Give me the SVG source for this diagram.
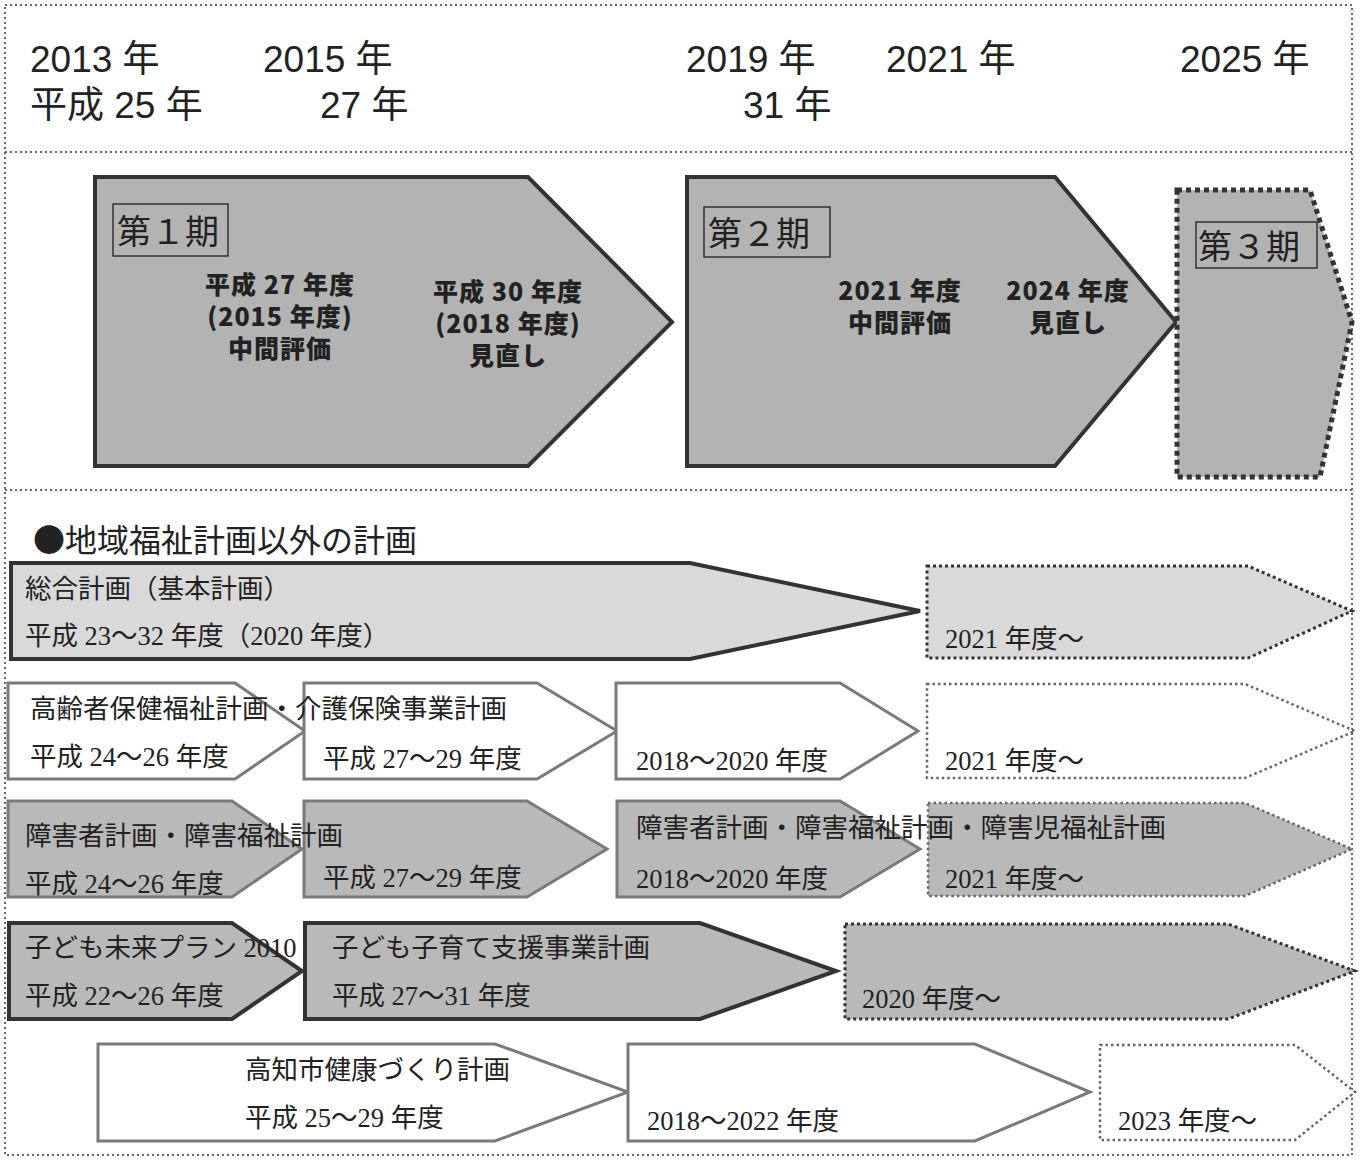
<svg xmlns="http://www.w3.org/2000/svg" width="1360" height="1160" viewBox="0 0 1360 1160">
<style>
.frame{fill:none;stroke:#666;stroke-width:2;stroke-dasharray:2 3}
.hdr{font-family:"Liberation Sans","Noto Sans CJK JP",sans-serif;font-size:37px;fill:#222}
.phase{fill:#b3b3b3;stroke:#333;stroke-width:4}
.phase3{fill:#b3b3b3;stroke:#333;stroke-width:5;stroke-dasharray:5 4}
.lbl{fill:none;stroke:#333;stroke-width:1.5}
.ptitle{font-family:"Noto Sans CJK JP",sans-serif;font-size:34px;fill:#222}
.bold{font-family:"Noto Sans CJK JP",sans-serif;font-weight:900;font-size:25px;letter-spacing:1px;fill:#222;text-anchor:middle}
.sec{font-family:"Noto Sans CJK JP",sans-serif;font-size:32px;fill:#222}
.t{font-family:"Liberation Serif","Noto Sans CJK JP",serif;font-size:26.5px;fill:#222}
.dk{stroke:#333;stroke-width:4}
.gr{stroke:#7a7a7a;stroke-width:3}
.lt{fill:#d9d9d9}
.md{fill:#b9b9b9}
.wh{fill:#fff}
.dot{stroke:#333;stroke-width:3;stroke-dasharray:3 3}
.dotg{stroke:#666;stroke-width:2.5;stroke-dasharray:2.5 3}
</style>
<rect x="0" y="0" width="1360" height="1160" fill="#fff"/>
<g id="frame">
<rect class="frame" x="5" y="5" width="1347" height="1150"/>
<line class="frame" x1="5" y1="152" x2="1352" y2="152"/>
<line class="frame" x1="5" y1="490" x2="1352" y2="490"/>
</g>
<g id="header">
<text class="hdr" x="30" y="72">2013 年</text>
<text class="hdr" x="263" y="72">2015 年</text>
<text class="hdr" x="686" y="72">2019 年</text>
<text class="hdr" x="886" y="72">2021 年</text>
<text class="hdr" x="1180" y="72">2025 年</text>
<text class="hdr" x="30" y="118">平成 25 年</text>
<text class="hdr" x="320" y="118">27 年</text>
<text class="hdr" x="743" y="118">31 年</text>
</g>
<g id="phase1">
<polygon class="phase" points="95,177 528,177 672,322 528,466 95,466"/>
<rect class="lbl" x="113" y="204" width="115" height="52"/>
<text class="ptitle" x="117" y="244">第１期</text>
<text class="bold" x="280" y="294"><tspan x="280">平成 27 年度</tspan><tspan x="280" dy="32">(2015 年度)</tspan><tspan x="280" dy="32">中間評価</tspan></text>
<text class="bold" x="508" y="301"><tspan x="508">平成 30 年度</tspan><tspan x="508" dy="32">(2018 年度)</tspan><tspan x="508" dy="32">見直し</tspan></text>
</g>
<g id="phase2">
<polygon class="phase" points="687,177 1055,177 1176,322 1055,466 687,466"/>
<rect class="lbl" x="704" y="207" width="126" height="50"/>
<text class="ptitle" x="708" y="246">第２期</text>
<text class="bold" x="900" y="300"><tspan x="900">2021 年度</tspan><tspan x="900" dy="32">中間評価</tspan></text>
<text class="bold" x="1068" y="300"><tspan x="1068">2024 年度</tspan><tspan x="1068" dy="32">見直し</tspan></text>
</g>
<g id="phase3">
<polygon class="phase3" points="1177,190 1310,190 1352,322 1320,477 1177,477"/>
<rect class="lbl" x="1196" y="222" width="121" height="46"/>
<text class="ptitle" x="1198" y="259">第３期</text>
</g>
<g id="section">
<text class="sec" x="33" y="552">●地域福祉計画以外の計画</text>
</g>
<g id="connectors"></g>
<g id="row1">
<polygon class="lt dk" points="11,563 690,563 920,611 690,659 11,659"/>
<text class="t" x="25" y="598">総合計画（基本計画）</text>
<text class="t" x="25" y="645">平成 23～32 年度（2020 年度）</text>
<polygon class="lt dot" points="927,566 1248,566 1352,611 1248,658 927,658"/>
<text class="t" x="945" y="648">2021 年度～</text>
</g>
<g id="row2">
<polygon class="wh gr" points="8,683 235,683 305,731 235,779 8,779"/>
<polygon class="wh gr" points="304,683 537,683 617,731 537,779 304,779"/>
<polygon class="wh gr" points="616,683 840,683 918,731 840,779 616,779"/>
<polygon class="wh dotg" points="927,684 1245,684 1355,731 1245,778 927,778"/>
<text class="t" x="30" y="718">高齢者保健福祉計画・介護保険事業計画</text>
<text class="t" x="30" y="766">平成 24～26 年度</text>
<text class="t" x="323" y="768">平成 27～29 年度</text>
<text class="t" x="636" y="770">2018～2020 年度</text>
<text class="t" x="945" y="770">2021 年度～</text>
</g>
<g id="row3">
<polygon class="md gr" points="8,801 232,801 302,849 232,897 8,897"/>
<polygon class="md gr" points="304,801 527,801 607,849 527,897 304,897"/>
<polygon class="md gr" points="617,801 840,801 920,849 840,897 617,897"/>
<polygon class="md dotg" points="928,803 1245,803 1352,849 1245,896 928,896"/>
<text class="t" x="25" y="845">障害者計画・障害福祉計画</text>
<text class="t" x="25" y="893">平成 24～26 年度</text>
<text class="t" x="323" y="887">平成 27～29 年度</text>
<text class="t" x="636" y="837">障害者計画・障害福祉計画・障害児福祉計画</text>
<text class="t" x="636" y="888">2018～2020 年度</text>
<text class="t" x="945" y="888">2021 年度～</text>
</g>
<g id="row4">
<polygon class="md dk" points="9,923 232,923 302,971 232,1019 9,1019"/>
<polygon class="md dk" points="305,923 700,923 836,971 700,1019 305,1019"/>
<polygon class="md dot" points="845,924 1228,924 1355,971 1228,1019 845,1019"/>
<text class="t" x="25" y="957">子ども未来プラン 2010</text>
<text class="t" x="25" y="1005">平成 22～26 年度</text>
<text class="t" x="332" y="957">子ども子育て支援事業計画</text>
<text class="t" x="332" y="1005">平成 27～31 年度</text>
<text class="t" x="862" y="1008">2020 年度～</text>
</g>
<g id="row5">
<polygon class="wh gr" points="98,1044 495,1044 628,1092 495,1141 98,1141"/>
<polygon class="wh gr" points="628,1044 975,1044 1090,1092 975,1141 628,1141"/>
<polygon class="wh dotg" points="1100,1045 1295,1045 1355,1092 1295,1140 1100,1140"/>
<text class="t" x="245" y="1079">高知市健康づくり計画</text>
<text class="t" x="245" y="1127">平成 25～29 年度</text>
<text class="t" x="647" y="1130">2018～2022 年度</text>
<text class="t" x="1118" y="1130">2023 年度～</text>
</g>
</svg>
